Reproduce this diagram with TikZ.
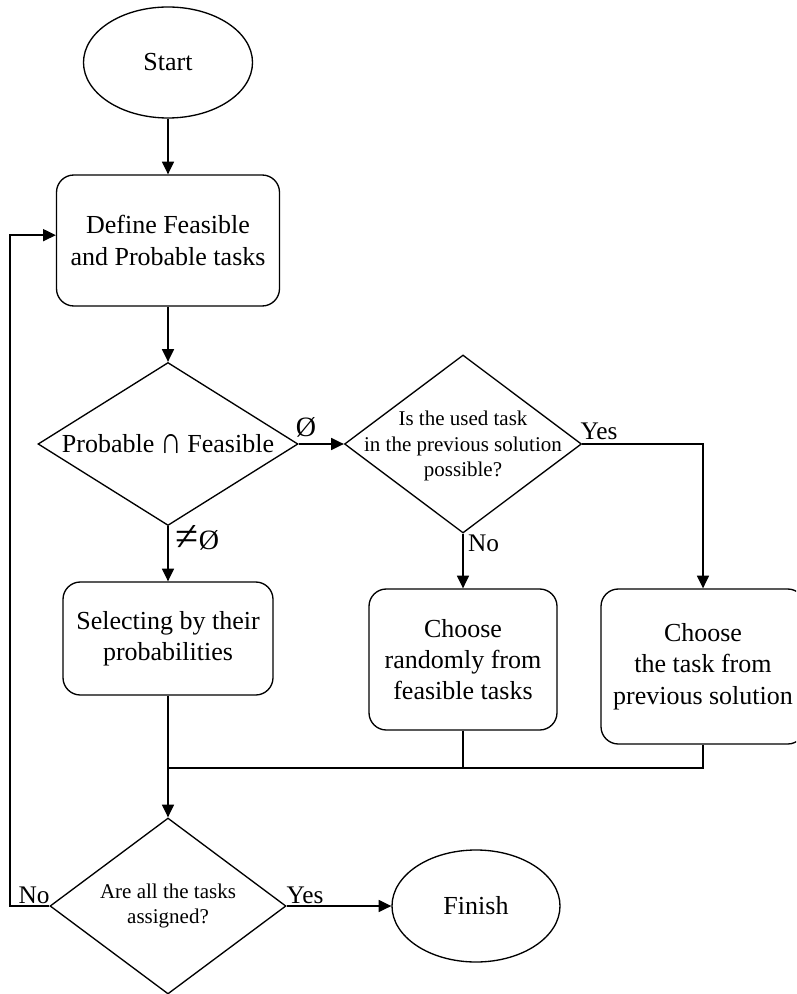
\documentclass[tikz,border=0pt]{standalone}
\usepackage{fontspec}
\usepackage{graphicx}
\setmainfont{Liberation Serif}
\usetikzlibrary{shapes.geometric,arrows.meta}
\newcommand{\bigcapsym}{\raisebox{-0.5pt}{\scalebox{1.15}[1.45]{∩}}}
\newcommand{\bigneqsym}{\raisebox{-1pt}{\scalebox{1.5}{≠}}}
\begin{document}
\begin{tikzpicture}[x=0.75pt,y=-0.75pt,
  line width=1pt,
  flow/.style={draw, line width=1pt},
  bigtext/.style={font=\fontsize{19.5}{23.5}\selectfont},
  smalltext/.style={font=\fontsize{15.75}{19}\selectfont},
  term/.style={flow, ellipse, inner sep=0pt, bigtext},
  proc/.style={flow, rectangle, rounded corners=13pt, inner sep=0pt, align=center, bigtext},
  dec/.style={flow, diamond, inner sep=0pt},
  dectext/.style={align=center, inner sep=0pt},
  arr/.style={-{Triangle[length=9.5pt,width=9pt]}},
  lbl/.style={inner sep=0pt, font=\fontsize{19}{23}\selectfont},
]
\useasboundingbox (0,0) rectangle (796,994);
\fill[white] (0,0) rectangle (796,994);
\clip (0,0) rectangle (796,994);

% terminals, process boxes and decisions
\node[term, minimum width=126.75pt, minimum height=83.25pt] (start) at (168,62.5) {Start};
\node[proc, minimum width=167.25pt, minimum height=98.25pt] (define) at (168,240.5) {Define Feasible\\and Probable tasks};
\node[dec, minimum width=195pt, minimum height=122.25pt] (d1) at (168,444) {};
\node[dectext, bigtext] (d1txt) at (d1.center) {Probable\hspace{0.22em}\bigcapsym\hspace{0.22em}Feasible};
\node[dec, minimum width=177.75pt, minimum height=133.5pt] (d2) at (463,444) {};
\node[dectext, smalltext] (d2txt) at ([yshift=-1.5pt]d2.center) {Is the used task\\in the previous solution\\possible?};
\node[proc, minimum width=157.5pt, minimum height=84.75pt] (sel) at (168,638.5) {Selecting by their\\probabilities};
\node[proc, minimum width=141pt, minimum height=105.75pt] (rand) at (463,659.5) {Choose\\randomly from\\feasible tasks};
\node[proc, minimum width=153pt, minimum height=116.25pt] (prev) at (703,666.5) {Choose\\the task from\\previous solution};
\node[dec, minimum width=177pt, minimum height=132pt] (d3) at (168,906) {};
\node[dectext, smalltext] (d3txt) at (d3.center) {Are all the tasks\\assigned?};
\node[term, minimum width=126pt, minimum height=84pt] (finish) at (476,906) {Finish};

% connectors
\draw[arr] (start) -- (define);
\draw[arr] (define) -- (d1);
\draw[arr] (d1.east) -- (d2.west);
\draw[arr] (d1.south) -- (sel.north);
\draw[arr] (d2.south) -- (rand.north);
\draw[arr] (d2.east) -| (prev.north);
\coordinate (mj) at (168,768);
\draw[arr] (sel.south) -- (d3.north);
\draw (rand.south) |- (mj);
\draw (prev.south) |- (mj);
\coordinate (lp) at (10,906);
\draw[arr] (d3.west) -- (lp) |- ([yshift=4pt]define.west);
\draw[arr] (d3.east) -- (finish.west);

% branch labels
\node[lbl, font=\fontsize{21}{25}\selectfont] (lempty) at (306,427) {Ø};
\node[lbl, font=\fontsize{21}{25}\selectfont] (lnotempty) at (197.5,538) {\bigneqsym Ø};
\node[lbl] (lyes2) at (599,431) {Yes};
\node[lbl] (lno2) at (483.5,543) {No};
\node[lbl] (lno3) at (34,895) {No};
\node[lbl] (lyes3) at (305,895) {Yes};
\end{tikzpicture}
\end{document}
